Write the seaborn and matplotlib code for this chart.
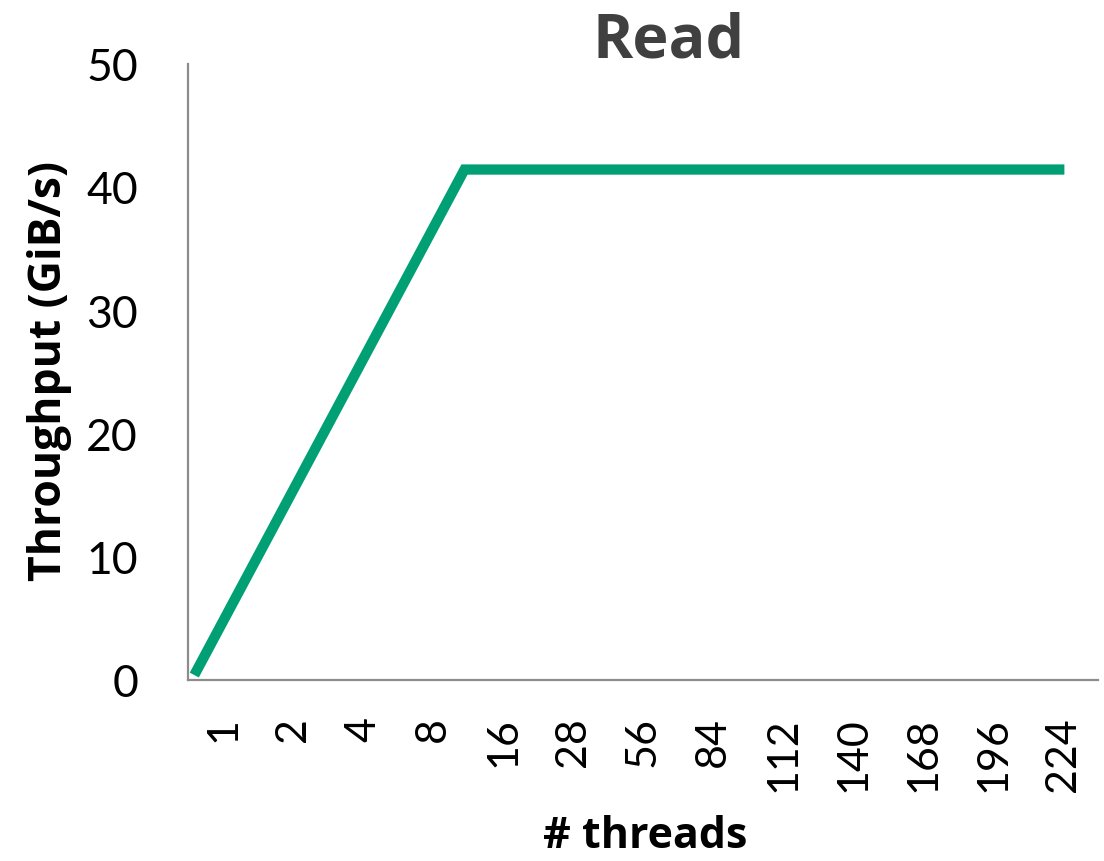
import matplotlib
matplotlib.use("Agg")
import matplotlib.pyplot as plt
import seaborn as sns

# Thread counts shown on the category axis
thread_labels = ["1", "2", "4", "8", "16", "28", "56", "84", "112", "140", "168", "196", "224"]

# Throughput curve breakpoints, x in category-index units (GiB/s)
curve_pos = [-0.41, 3.45, 12.02]
curve_gibs = [0.4, 41.4, 41.4]

y_ticks = [0, 10, 20, 30, 40, 50]

sns.set_theme(style="white")
plt.rcParams["font.family"] = ["Lato", "DejaVu Sans"]
bold_family = ["Open Sans", "DejaVu Sans"]

fig = plt.figure(figsize=(11.04, 8.62), dpi=100)
ax = fig.add_axes([188 / 1104, 1 - 681 / 862, 910 / 1104, 616.5 / 862])

sns.lineplot(x=curve_pos, y=curve_gibs, ax=ax, color="#00A074", linewidth=7.4,
             solid_capstyle="butt", solid_joinstyle="miter", clip_on=False)

ax.set_xlim(-0.5, 12.5)
ax.set_ylim(0, 50)
ax.set_xticks(range(len(thread_labels)))
ax.set_xticklabels(thread_labels, rotation=90, fontsize=31, color="black")
ax.set_yticks(y_ticks)
ax.set_yticklabels([str(v) for v in y_ticks], fontsize=32, color="black")
ax.tick_params(axis="x", length=0, pad=26)
ax.tick_params(axis="y", length=0, pad=36)

for side in ["top", "right"]:
    ax.spines[side].set_visible(False)
for side in ["left", "bottom"]:
    ax.spines[side].set_color("#8c8c8c")
    ax.spines[side].set_linewidth(1.6)

ax.set_ylabel("Throughput (GiB/s)", fontsize=32, fontweight="bold", color="black",
              family=bold_family)
ax.yaxis.set_label_coords(-0.128, 0.503)
ax.set_xlabel("# threads", fontsize=31, fontweight="bold", color="black",
              family=bold_family)
ax.xaxis.set_label_coords(0.502, -0.218)

fig.text(669 / 1104, 1 - 57 / 862, "Read", fontsize=44, fontweight="bold",
         color="#404040", ha="center", va="baseline", family=bold_family)

fig.savefig("out.png", dpi=100, facecolor="white")
